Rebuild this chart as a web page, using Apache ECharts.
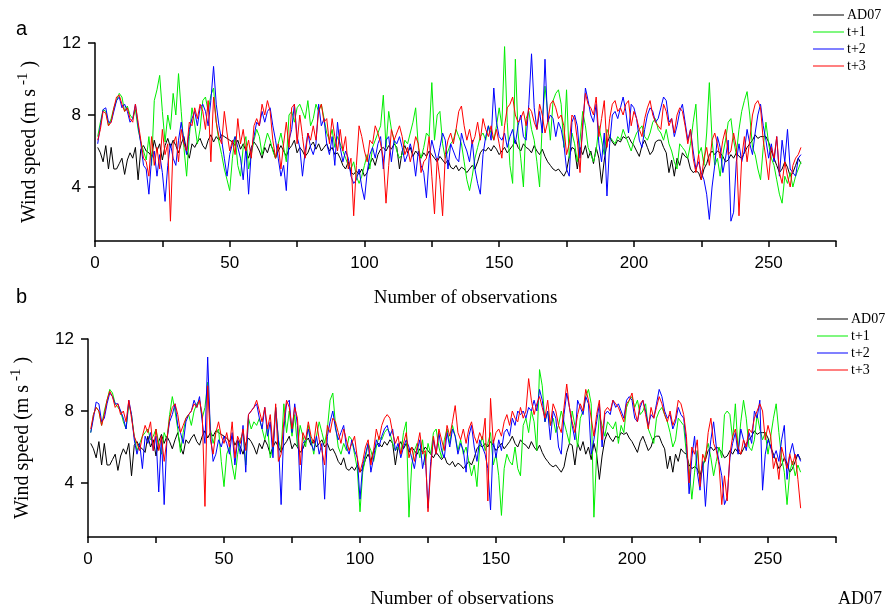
<!DOCTYPE html>
<html>
<head>
<meta charset="utf-8">
<script src="https://cdn.jsdelivr.net/npm/echarts@6/dist/echarts.min.js"></script>
<style>
  html, body { margin: 0; padding: 0; background: #fff; }
  #main { width: 886px; height: 612px; }
</style>
</head>
<body>
<div id="main"></div>
<script>
// observed wind speed AD07 (same in both panels), obs 1..262
var obs = [
  6.2,5.9,5.4,6.3,5.0,6.2,5.0,5.0,5.3,5.6, 4.7,5.5,5.9,5.6,6.2,4.4,6.1,6.3,6.0,5.9,
  5.7,6.6,6.0,6.4,5.5,6.3,6.7,6.2,6.6,6.3, 5.9,6.4,6.8,6.0,5.6,6.4,6.2,6.5,6.7,6.3,
  6.1,6.6,6.9,6.5,6.8,6.6,6.9,6.8,6.7,6.6, 6.5,6.3,6.6,6.1,6.4,6.0,5.6,6.2,6.5,6.3,
  6.0,5.6,6.2,5.9,6.4,6.1,5.6,6.0,6.3,6.0, 5.7,6.1,6.3,6.6,5.9,6.2,6.0,5.7,5.9,6.3,
  6.5,6.1,6.4,6.0,6.2,6.4,6.0,6.2,5.8,5.9, 5.6,5.2,5.0,5.4,4.8,4.7,4.9,4.7,5.0,4.6,
  4.8,5.3,5.6,5.2,5.8,6.1,6.2,6.0,6.3,6.1, 6.4,6.2,5.0,6.0,6.3,5.9,6.2,5.7,6.0,5.8,
  5.6,5.9,5.7,6.0,5.8,5.6,5.4,5.7,5.5,5.3, 5.5,5.1,5.0,5.2,4.9,5.1,5.0,4.8,5.0,5.2,
  5.0,5.4,5.9,6.1,6.0,6.2,6.0,6.3,6.1,5.8, 6.0,6.2,5.9,6.1,6.3,6.6,6.2,6.0,6.4,6.2,
  6.1,5.9,6.3,6.0,5.8,6.1,5.7,5.4,5.2,5.0, 4.9,5.0,4.8,4.6,4.9,5.7,6.2,6.1,5.0,6.2,
  5.8,6.3,5.6,6.0,5.3,6.2,5.6,4.2,5.5,6.4, 6.8,6.5,6.3,6.6,6.5,6.8,6.7,6.8,6.5,6.3,
  6.0,5.7,6.3,6.6,6.2,5.8,6.0,6.5,6.6,6.6, 6.2,5.9,4.8,5.5,4.6,5.6,5.2,5.9,5.7,5.6,
  5.0,4.8,4.9,4.8,4.4,5.0,5.3,5.8,6.0,5.8, 6.0,5.9,5.7,5.4,5.5,5.8,5.6,5.9,5.7,5.6,
  5.9,6.2,6.4,6.6,6.9,6.7,6.8,6.8,6.8,6.5, 6.0,5.6,5.2,4.8,5.0,5.4,5.1,4.6,4.8,5.2,
  5.6,5.3
];

// panel a forecasts
var aT1 = [
  6.8,7.6,8.3,8.2,7.4,7.8,8.4,8.8,9.2,9.0, 8.2,8.5,8.0,7.8,8.3,7.2,6.5,6.0,5.5,6.8,
  5.2,8.8,9.4,10.2,8.2,6.5,8.0,7.2,9.2,8.0, 10.3,8.2,6.2,4.6,6.8,8.4,7.5,6.4,7.2,8.8,
  9.0,8.2,9.1,9.5,7.6,6.5,5.8,5.0,4.4,3.8, 5.6,6.8,5.2,4.6,6.2,6.8,5.0,5.8,6.6,7.2,
  6.8,5.8,6.4,7.0,6.6,6.0,5.6,6.4,7.0,6.2, 5.4,8.0,8.2,7.6,8.4,8.6,8.2,7.8,8.8,7.4,
  7.8,8.6,8.2,8.6,7.8,7.0,6.6,7.2,6.2,6.8, 6.4,6.0,5.6,5.2,5.0,5.4,4.6,4.2,4.6,5.2,
  5.8,5.0,6.2,6.6,7.0,7.4,9.1,6.2,8.2,7.2, 6.6,6.0,5.6,5.8,6.6,6.4,7.0,7.6,8.4,6.2,
  5.6,6.2,7.0,6.8,9.8,6.6,8.0,8.2,6.4,5.6, 6.0,6.4,6.6,7.2,6.8,6.4,5.4,4.4,3.8,4.6,
  5.6,6.2,6.8,7.0,6.6,7.4,7.0,6.6,7.4,8.4, 7.4,11.8,7.6,5.2,4.2,11.1,7.0,5.6,4.0,7.8,
  8.2,7.2,6.6,5.4,4.0,7.6,9.6,8.2,6.6,8.8, 9.2,9.4,8.6,6.2,9.4,5.6,7.0,6.4,5.4,6.6,
  8.2,7.4,6.2,5.8,5.4,6.0,7.4,6.6,5.8,7.2, 6.8,6.6,6.4,6.8,6.6,7.2,6.8,6.4,6.0,6.6,
  7.0,7.2,7.4,6.8,6.6,7.0,7.6,7.8,7.2,7.0, 6.6,7.2,6.4,6.0,5.4,5.0,6.4,6.2,6.0,5.6,
  6.4,7.6,8.6,5.8,6.2,5.2,7.0,9.8,6.6,5.2, 5.6,4.6,5.8,6.6,7.6,7.8,6.6,5.8,7.2,8.2,
  8.8,9.3,8.0,6.2,5.8,5.0,4.4,6.2,7.6,6.4, 5.6,5.2,4.4,3.6,3.1,4.6,4.2,4.8,4.0,4.6,
  5.0,5.4
];
var aT2 = [
  6.4,7.4,8.3,8.4,7.6,7.6,8.2,8.8,9.0,8.4, 8.6,8.2,7.6,7.8,8.6,7.4,6.4,5.2,5.0,3.6,
  5.6,6.0,4.6,5.8,4.8,3.2,5.2,6.4,5.6,5.2, 6.6,7.6,6.6,5.8,7.2,7.8,8.2,7.4,8.4,8.6,
  8.2,7.4,8.8,10.7,8.6,7.4,6.6,5.6,4.6,5.8, 6.4,6.8,6.2,5.6,4.4,6.2,3.6,6.0,6.8,7.6,
  7.4,8.2,7.6,8.2,8.4,7.4,6.6,5.6,4.6,5.2, 3.8,6.6,7.2,8.6,6.8,6.2,4.6,6.0,7.0,6.2,
  5.8,6.4,8.6,7.4,7.8,6.4,5.8,6.8,5.2,7.6, 6.2,5.4,6.0,5.6,4.6,4.2,4.4,5.0,4.0,3.3,
  4.8,5.8,6.2,5.6,6.4,6.8,5.0,6.6,6.8,5.4, 6.6,6.4,6.8,6.2,5.4,5.8,6.4,5.8,4.6,6.0,
  5.2,4.8,3.4,5.6,6.6,6.0,5.4,6.2,7.0,6.6, 5.0,6.4,6.0,5.6,5.4,7.0,6.4,6.0,5.4,6.6,
  5.0,4.2,3.6,5.8,6.8,7.4,6.6,9.5,7.6,6.8, 6.6,7.0,6.2,6.8,7.2,6.4,7.4,8.0,6.8,6.6,
  8.6,11.4,8.4,7.2,8.2,7.0,11.1,7.6,8.0,7.8, 6.8,7.6,7.2,6.4,5.0,4.6,7.6,8.0,7.4,5.6,
  7.2,9.5,8.8,8.0,7.6,8.6,6.4,5.4,7.0,3.5, 6.4,8.0,8.2,7.8,8.4,9.0,8.2,7.0,8.6,8.4,
  7.8,6.6,6.2,7.2,8.0,8.4,8.2,7.6,7.8,8.4, 9.0,8.8,7.6,7.8,6.8,7.4,8.2,8.6,7.6,6.6,
  7.2,6.0,5.0,5.4,4.8,4.4,3.6,2.2,4.0,5.2, 6.8,6.2,4.8,5.6,6.6,2.1,2.6,5.4,6.4,5.4,
  6.0,7.2,6.4,5.8,7.0,8.0,8.6,7.4,6.6,5.6, 6.4,5.4,6.8,4.6,6.6,5.4,7.2,5.0,4.8,4.6,
  5.6,5.8
];
var aT3 = [
  6.6,7.2,8.2,8.1,7.4,7.6,8.4,9.0,9.1,8.6, 8.2,8.4,7.8,7.6,8.6,7.6,6.6,5.6,5.4,4.6,
  6.8,5.2,6.2,5.0,7.2,5.8,6.4,2.1,6.4,6.8, 5.4,7.2,6.4,6.0,7.6,7.4,8.4,7.8,8.6,8.2,
  7.2,8.8,5.4,9.0,7.6,6.8,6.4,8.2,7.0,6.0, 6.6,5.8,7.8,6.4,7.2,6.0,6.6,5.6,7.4,7.8,
  7.4,8.6,8.0,8.8,8.2,6.6,5.6,6.4,5.0,6.4, 7.6,6.2,8.4,8.6,6.4,8.0,6.8,5.6,7.0,6.6,
  7.4,6.6,8.2,8.6,7.6,7.8,6.4,7.8,6.8,6.0, 7.2,6.0,6.8,5.0,5.6,2.4,5.2,7.4,6.8,6.0,
  5.4,6.6,6.4,7.4,7.0,6.4,5.6,3.1,5.2,7.2, 6.6,7.0,7.4,6.8,5.8,6.2,5.4,6.0,6.8,6.4,
  4.8,5.4,5.6,6.8,4.6,2.5,5.6,4.4,2.4,5.8, 6.6,7.0,6.4,7.2,8.2,8.5,7.4,6.6,7.2,6.4,
  6.8,7.6,6.6,7.8,7.2,6.8,7.4,6.6,7.2,6.4, 5.6,7.4,8.4,8.6,9.0,8.0,7.6,7.8,8.2,7.4,
  8.4,8.2,7.6,7.2,8.6,8.0,7.0,7.6,8.6,8.8, 8.4,7.8,8.0,7.4,5.8,6.4,8.0,7.8,6.6,4.8,
  7.6,9.2,8.6,8.4,8.0,9.0,6.8,7.8,8.8,6.2, 7.8,8.6,8.8,8.2,8.4,8.0,8.6,8.8,7.4,8.2,
  7.8,7.2,6.8,7.8,8.4,8.8,8.0,7.6,7.4,7.2, 8.6,8.2,7.4,7.8,7.0,8.0,8.4,8.2,7.4,6.4,
  7.2,5.6,4.8,5.8,4.4,5.6,6.2,5.2,6.6,7.0, 6.4,5.6,6.6,7.2,5.8,6.0,7.0,6.2,2.4,5.6,
  6.8,5.4,6.6,8.0,8.6,8.8,8.4,6.6,5.6,4.4, 6.2,5.6,6.8,4.8,4.2,5.4,4.6,4.0,5.2,5.6,
  5.8,6.2
];

// panel b forecasts
var bT1 = [
  6.8,7.8,8.2,8.0,7.2,8.0,8.6,9.2,9.0,8.4, 8.2,8.0,7.4,7.0,8.4,7.8,6.6,5.8,6.2,6.6,
  6.8,7.0,6.4,6.6,7.0,6.2,5.6,6.8,6.4,7.8, 8.8,8.0,7.0,5.7,6.8,7.6,7.8,7.2,8.0,8.4,
  8.6,7.6,8.2,9.6,7.0,6.2,6.8,7.0,5.2,3.8, 5.6,6.0,5.0,4.2,5.6,6.4,6.8,5.0,7.6,7.0,
  7.4,7.2,7.6,7.0,6.4,7.2,5.4,6.0,8.2,6.4, 5.8,8.4,6.8,8.0,6.6,7.8,6.0,7.2,6.6,6.0,
  7.2,6.4,5.6,6.6,7.4,6.8,6.2,7.0,8.6,9.0, 7.2,6.0,5.6,6.2,5.8,6.6,6.4,5.6,4.8,2.4,
  4.6,5.4,6.2,5.8,5.2,6.0,6.6,6.4,6.8,7.0, 6.8,6.2,5.8,6.0,5.6,6.8,7.4,2.1,5.0,5.8,
  6.2,5.4,6.4,5.0,6.2,5.6,6.8,7.0,6.0,5.4, 6.4,7.0,6.2,7.2,6.6,5.8,6.4,5.6,6.0,5.2,
  4.4,5.0,3.8,6.0,6.6,5.8,6.2,6.8,5.0,5.6, 4.4,2.2,4.8,5.6,5.2,5.0,6.0,4.8,4.4,7.2,
  7.6,6.8,8.0,7.4,5.8,10.3,9.4,7.4,8.0,7.2, 7.6,6.8,7.2,8.0,7.4,6.8,6.2,8.0,7.2,6.0,
  7.6,8.0,8.8,9.2,8.4,2.1,5.6,7.8,7.2,6.6, 7.4,7.2,7.0,7.4,6.2,7.2,6.8,8.2,8.6,8.8,
  8.2,8.6,7.8,8.0,8.4,7.0,6.6,6.2,7.6,8.0, 8.2,7.8,7.4,6.8,6.0,6.4,7.6,7.4,7.2,5.6,
  4.8,3.1,4.6,5.8,4.2,4.8,5.6,6.2,5.4,4.4, 5.2,6.0,5.4,7.8,8.0,7.8,6.4,8.4,5.8,7.4,
  8.6,7.6,6.0,5.8,6.4,7.8,7.0,6.4,6.8,5.6, 6.6,7.6,8.4,6.8,5.4,4.6,2.8,4.6,5.2,4.4,
  5.0,4.6
];
var bT2 = [
  6.8,7.6,8.5,8.4,7.4,7.6,8.4,9.0,8.8,8.4, 8.4,8.0,7.6,7.0,8.6,7.8,6.4,5.6,6.2,4.8,
  6.6,6.2,6.8,5.8,6.6,3.5,6.6,2.8,6.4,7.4, 7.8,8.4,7.2,6.8,6.2,7.4,7.8,8.0,8.6,8.2,
  8.8,7.4,6.2,11.0,6.8,5.2,5.6,6.4,6.0,6.6, 6.2,5.6,6.8,5.0,6.4,5.6,7.2,4.6,7.8,8.0,
  8.2,8.4,7.6,7.0,8.2,6.6,7.4,5.4,8.2,6.4, 2.8,7.0,8.4,8.6,6.8,8.4,7.2,3.6,6.2,6.4,
  7.0,6.2,5.8,6.6,5.6,6.2,3.1,6.6,7.4,8.0, 7.0,6.4,6.8,7.2,6.0,5.6,6.4,5.8,5.4,3.1,
  5.0,5.6,6.2,4.6,5.4,6.4,6.0,6.6,7.0,7.2, 6.6,7.0,5.8,6.2,5.4,6.0,6.4,6.0,5.4,4.8,
  5.8,6.4,4.8,5.6,2.6,5.2,6.4,5.6,6.8,5.8, 5.4,6.8,6.0,7.0,6.6,5.6,6.2,5.8,4.6,6.6,
  7.2,6.0,5.2,6.4,6.0,5.6,4.8,2.5,6.4,5.4, 6.4,5.8,6.8,7.0,6.6,7.6,7.2,8.0,7.8,8.0,
  7.6,8.2,8.0,8.6,8.0,9.2,8.6,7.4,8.0,6.4, 8.0,7.6,6.0,5.6,7.8,9.0,8.2,7.2,6.4,8.6,
  8.2,7.8,8.8,8.4,5.6,6.4,7.4,8.4,6.0,7.8, 8.0,7.8,8.6,8.2,8.4,8.0,7.6,8.6,8.8,8.6,
  7.6,7.4,8.2,8.6,8.0,7.2,7.8,7.6,8.4,9.2, 8.8,8.0,7.6,7.8,7.0,7.4,8.2,7.8,7.6,6.2,
  3.4,5.4,6.6,4.6,3.6,5.2,2.7,5.0,6.4,7.4, 6.0,5.2,4.4,2.8,3.2,5.4,6.2,6.8,5.6,7.0,
  6.4,5.8,6.8,6.2,8.0,7.6,8.6,3.6,5.6,6.4, 6.0,5.4,5.8,5.2,6.4,7.2,4.2,5.6,6.2,5.4,
  5.6,5.2
];
var bT3 = [
  7.0,7.8,8.2,8.0,7.2,7.8,8.6,9.1,8.8,8.2, 8.4,7.8,8.0,7.4,8.6,7.6,6.6,6.2,5.8,6.6,
  7.2,6.8,7.4,5.8,7.0,5.8,6.6,5.2,6.4,7.6, 8.2,8.4,7.8,6.8,7.2,7.6,7.8,8.0,8.4,8.2,
  8.6,7.8,2.7,9.4,6.4,5.6,6.8,7.4,6.6,6.2, 6.8,6.0,7.4,5.4,6.6,6.2,7.0,5.8,7.8,8.0,
  8.2,8.6,8.0,7.4,8.2,7.0,7.8,6.0,8.4,5.2, 5.6,7.4,8.6,8.2,7.0,8.2,7.6,5.0,6.8,6.4,
  7.4,6.6,6.2,7.4,6.4,5.8,5.0,7.2,6.8,7.6, 7.4,6.8,6.2,7.0,6.4,5.8,6.2,6.6,5.4,4.6,
  5.2,6.0,6.4,5.0,5.8,7.0,6.4,7.2,7.6,7.8, 7.6,6.8,6.2,6.6,5.6,6.2,6.8,5.4,6.0,5.2,
  6.0,6.8,5.6,5.8,2.4,4.8,6.6,5.6,7.0,6.4, 5.8,7.2,6.6,7.4,8.3,6.8,6.4,7.0,6.2,7.0,
  7.4,6.6,6.2,6.8,6.4,7.6,3.0,8.7,6.2,6.8, 7.0,6.6,7.4,7.8,7.2,8.0,7.6,7.4,8.2,7.6,
  8.0,9.8,8.6,7.8,8.4,8.8,8.2,7.6,8.6,7.2, 8.4,8.0,7.2,6.8,8.2,9.5,8.2,7.4,6.8,7.8,
  8.4,8.0,9.2,8.6,7.6,6.6,7.8,8.6,6.4,8.0, 8.2,8.0,8.6,8.4,8.2,7.8,7.4,8.4,8.6,9.0,
  8.0,7.4,8.4,8.6,7.8,7.0,8.2,7.6,8.2,8.8, 8.4,7.8,7.4,8.0,7.2,7.6,8.6,8.4,7.8,6.6,
  4.0,6.0,5.6,6.4,3.8,5.6,5.2,6.8,7.6,6.2, 5.8,5.0,2.8,4.4,3.0,5.6,6.6,7.0,6.0,5.6,
  6.4,6.0,7.0,6.8,7.6,8.0,8.4,8.0,6.4,7.2, 6.6,4.8,5.4,4.2,6.0,5.4,4.8,5.6,5.0,5.6,
  4.2,2.6
];

var names = ['AD07', 't+1', 't+2', 't+3'];
var colors = ['#000000', '#00ee00', '#0000ff', '#ff0000'];
var yTicks = [4, 8, 12];

function pairs(arr) {
  return arr.map(function (v, i) { return [i + 1, v]; });
}

var myChart = echarts.init(document.getElementById('main'));

var serif = '"Liberation Serif", "Times New Roman", serif';
var sans = '"Liberation Sans", Arial, sans-serif';

function xAxisFor(idx, gap) {
  return {
    type: 'value', gridIndex: idx, min: 0, max: 275, interval: 25,
    name: 'Number of observations', nameLocation: 'middle', nameGap: gap,
    nameTextStyle: { fontFamily: serif, fontSize: 19, color: '#000' },
    axisLine: { show: true, lineStyle: { color: '#000', width: 1.5 } },
    axisTick: { show: true, length: 6, lineStyle: { color: '#000', width: 1.5 } },
    axisLabel: {
      margin: 14, fontFamily: sans, fontSize: 17, color: '#000',
      formatter: function (v) { return v % 50 === 0 ? v : ''; }
    },
    splitLine: { show: false }
  };
}

function yAxisFor(idx) {
  return {
    type: 'value', gridIndex: idx, min: 1, max: 12,
    name: 'Wind speed (m s{sup| -1})', nameLocation: 'middle', nameGap: 52, nameRotate: 90,
    nameTextStyle: {
      fontFamily: serif, fontSize: 20, color: '#000',
      rich: { sup: { fontFamily: serif, fontSize: 15, color: '#000', padding: [0, 5, 12, 0] } }
    },
    axisLine: { show: true, lineStyle: { color: '#000', width: 1.5 } },
    axisTick: { show: true, length: 7, customValues: yTicks, lineStyle: { color: '#000', width: 1.5 } },
    axisLabel: { margin: 14, fontFamily: sans, fontSize: 17, color: '#000', customValues: yTicks },
    splitLine: { show: false }
  };
}

var panels = [[obs, aT1, aT2, aT3], [obs, bT1, bT2, bT3]];
var series = [];
panels.forEach(function (p, g) {
  p.forEach(function (arr, k) {
    series.push({
      name: names[k], type: 'line', xAxisIndex: g, yAxisIndex: g,
      data: pairs(arr), showSymbol: false, symbol: 'none',
      lineStyle: { color: colors[k], width: 1 }, itemStyle: { color: colors[k] }
    });
  });
});

function legendFor(left, top) {
  return {
    orient: 'vertical', left: left, top: top, data: names,
    icon: 'rect', itemWidth: 31, itemHeight: 1, itemGap: 3,
    textStyle: { fontFamily: serif, fontSize: 14, lineHeight: 14, color: '#000', padding: [0, 0, 0, -2] }
  };
}

var option = {
  animation: false,
  backgroundColor: '#fff',
  grid: [
    { left: 95, top: 43, width: 741, height: 198 },
    { left: 88, top: 339, width: 748, height: 198 }
  ],
  xAxis: [xAxisFor(0, 48), xAxisFor(1, 53)],
  yAxis: [yAxisFor(0), yAxisFor(1)],
  legend: [legendFor(808, 3), legendFor(812, 307)],
  graphic: [
    { type: 'text', left: 16, top: 19, style: { text: 'a', font: '20px ' + sans, fill: '#000' } },
    { type: 'text', left: 16, top: 287, style: { text: 'b', font: '20px ' + sans, fill: '#000' } },
    { type: 'text', left: 838, top: 590, style: { text: 'AD07', font: '18px ' + serif, fill: '#000' } }
  ],
  series: series
};

myChart.setOption(option);
</script>
</body>
</html>
